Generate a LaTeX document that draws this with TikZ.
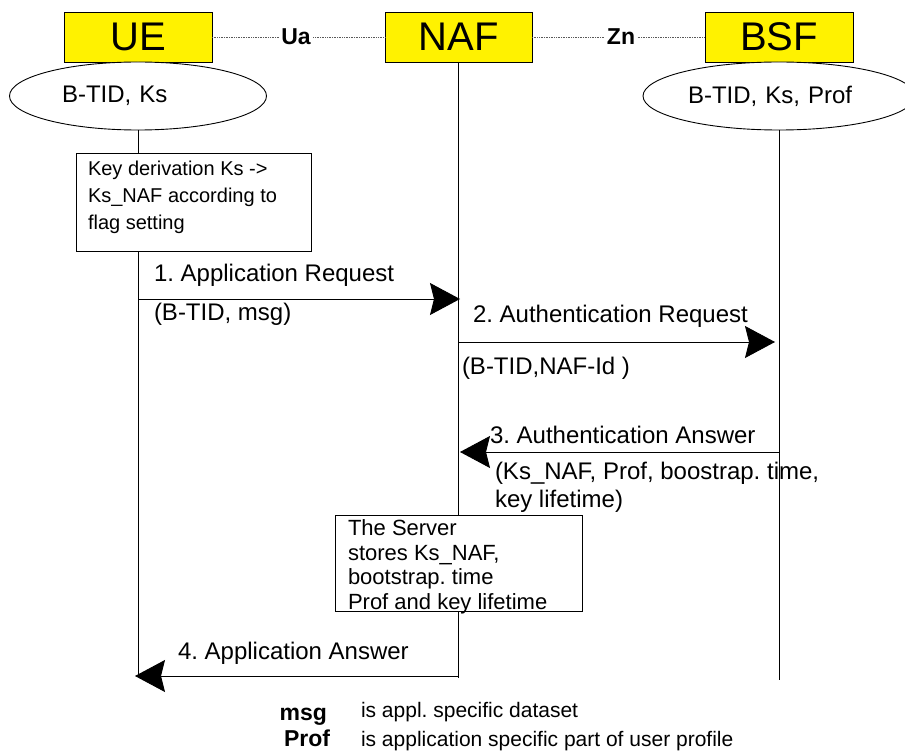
\documentclass[tikz,border=0pt]{standalone}
\usepackage{fontspec}
\setmainfont{Liberation Sans}
\usetikzlibrary{shapes.geometric,arrows.meta}
\frenchspacing
\begin{document}
\frenchspacing
\begin{tikzpicture}[x=1pt,y=-1pt,
  every node/.style={inner sep=0pt, outer sep=0pt},
  entity/.style={draw=black, line width=0.9pt, fill=yellow, minimum height=50pt, font=\fontsize{40}{44}\selectfont},
  store/.style={draw=black, ellipse, line width=0.9pt, fill=white, minimum height=68pt, align=left, font=\fontsize{24}{28}\selectfont},
  iface/.style={font=\bfseries\fontsize{23}{26}\selectfont, outer sep=2.5pt},
  link/.style={draw=black!65, line width=0.9pt, dash pattern=on 1pt off 0.7pt},
  life/.style={draw=black, line width=0.9pt},
  note/.style={draw=black, line width=0.9pt, fill=white},
  notetext/.style={align=left, anchor=north west},
  lbl/.style={anchor=base west, font=\fontsize{24}{28}\selectfont},
  msgarrow/.style={draw=black, line width=0.9pt, -{Stealth[length=30pt,width=32pt,inset=4pt]}},
  legkey/.style={anchor=base east, font=\bfseries\fontsize{23}{26}\selectfont},
  legtxt/.style={anchor=base west, font=\fontsize{21}{24}\selectfont}
]
\useasboundingbox (0,0) rectangle (905,751);

% entities
\node[entity, minimum width=148pt] (ue) at (138,37) {UE};
\node[entity, minimum width=147pt] (naf) at (458.5,37) {NAF};
\node[entity, minimum width=148pt] (bsf) at (779,37) {BSF};

% interfaces
\node[iface] (ua) at (296,37) {Ua};
\node[iface] (zn) at (621,37) {Zn};
\draw[link] (ue.east) -- (ua.west);
\draw[link] (ua.east) -- (naf.west);
\draw[link] (naf.east) -- (zn.west);
\draw[link] (zn.east) -- (bsf.west);

% stored data
\node[store, minimum width=257pt, text width=152pt] (ueks) at (138,96) {B-TID, Ks};
\node[store, minimum width=272pt, text width=182pt] (bsfks) at (779,96) {B-TID, Ks, Prof};

% lifelines
\coordinate (ueend) at (138,676);
\coordinate (nafend) at (458.5,678);
\coordinate (bsfend) at (779,680);
\draw[life] (ueks.south) -- (ueend);
\draw[life] (naf.south) -- (nafend);
\draw[life] (bsfks.south) -- (bsfend);

% notes
\node[note, anchor=north west, minimum width=235pt, minimum height=98pt] (keybox) at (76,153) {};
\node[notetext, font=\fontsize{20}{27}\selectfont] (keytext) at (88,161) {Key derivation Ks ->\\Ks\_NAF according to\\flag setting};

\node[note, anchor=north west, minimum width=247pt, minimum height=96pt] (srvbox) at (335,515) {};
\node[notetext, font=\fontsize{22}{24.5}\selectfont] (srvtext) at (348,520) {The Server\\stores Ks\_NAF,\\bootstrap. time\\Prof and key lifetime};

% messages
\coordinate (m1s) at (138,299);
\coordinate (m1e) at (460,299);
\coordinate (m2s) at (458.5,342);
\coordinate (m2e) at (775,342);
\coordinate (m3s) at (779,452);
\coordinate (m3e) at (460,452);
\coordinate (m4s) at (458.5,676);
\coordinate (m4e) at (135,676);
\draw[msgarrow] (m1s) -- (m1e);
\draw[msgarrow] (m2s) -- (m2e);
\draw[msgarrow] (m3s) -- (m3e);
\draw[msgarrow] (m4s) -- (m4e);

\node[lbl] (l1) at (154,281.5) {1. Application Request};
\node[lbl] (p1) at (154,321) {(B-TID, msg)};
\node[lbl] (l2) at (473,322.5) {2. Authentication Request};
\node[lbl] (p2) at (462,374) {(B-TID,NAF-Id )};
\node[lbl] (l3) at (490,443.5) {3. Authentication Answer};
\node[lbl] (p3) at (495,479) {(Ks\_NAF, Prof, boostrap. time,};
\node[lbl] (p3b) at (495,507) {key lifetime)};
\node[lbl] (l4) at (178,659.5) {4. Application Answer};

% legend
\node[legkey] (kmsg) at (327,720) {msg};
\node[legtxt] (tmsg) at (361,717) {is appl. specific dataset};
\node[legkey] (kprof) at (330,746) {Prof};
\node[legtxt] (tprof) at (361,746) {is application specific part of user profile};
\end{tikzpicture}
\end{document}
